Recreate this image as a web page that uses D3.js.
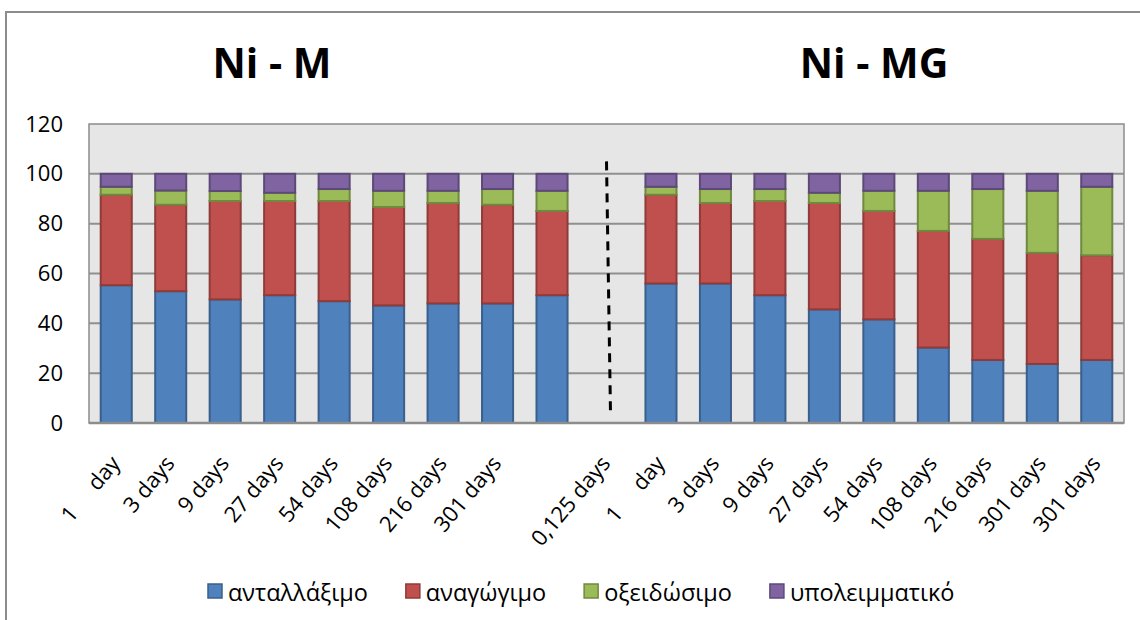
<!DOCTYPE html>
<html>
<head>
<meta charset="utf-8">
<script src="https://cdn.jsdelivr.net/npm/d3@7"></script>
<style>
  body { margin: 0; background: #fff; }
  text { font-family: "Open Sans", "Noto Sans", sans-serif; }
</style>
</head>
<body>
<svg id="chart" width="1140" height="620"></svg>
<script>
// legend / series
var seriesNames = ['ανταλλάξιμο', 'αναγώγιμο', 'οξειδώσιμο', 'υπολειμματικό']
var fills = ['#4F81BD', '#C0504D', '#9BBB59', '#8064A2']
var strokes = ['#3A5F8C', '#8E3B39', '#71893F', '#5D4978']

// Ni - M, 9 bars
var exchM = [55.3, 52.9, 49.6, 51.3, 48.9, 47.2, 48.0, 48.0, 51.3]
var redM  = [36.3, 34.7, 39.5, 37.8, 40.2, 39.5, 40.3, 39.6, 33.8]
var oxM   = [3.2, 5.7, 4.0, 3.3, 4.8, 6.5, 4.9, 6.3, 8.1]
var resM  = [5.2, 6.7, 6.9, 7.6, 6.1, 6.8, 6.8, 6.1, 6.8]

// Ni - MG, 9 bars
var exchMG = [56.0, 56.0, 51.3, 45.6, 41.6, 30.3, 25.3, 23.7, 25.3]
var redMG  = [35.6, 32.3, 37.8, 42.7, 43.5, 46.8, 48.6, 44.6, 42.0]
var oxMG   = [3.2, 5.6, 4.8, 4.1, 8.1, 16.1, 20.0, 24.9, 27.5]
var resMG  = [5.2, 6.1, 6.1, 7.6, 6.8, 6.8, 6.1, 6.8, 5.2]

// category axis labels as printed (one slot is the gap between the groups)
var axisLabels = ['1     day', '3 days', '9 days', '27 days', '54 days', '108 days', '216 days', '301 days', '',
  '0,125 days', '1     day', '3 days', '9 days', '27 days', '54 days', '108 days', '216 days', '301 days', '301 days']

var yTicks = [0, 20, 40, 60, 80, 100, 120]
var titles = ['Ni - M', 'Ni - MG']

var svg = d3.select('#chart')
var plotL = 89, plotR = 1124, plotT = 124, plotB = 423

// outer chart border
svg.append('rect').attr('x', 6).attr('y', 12).attr('width', 1200).attr('height', 700)
  .attr('fill', '#fff').attr('stroke', '#8c8c8c').attr('stroke-width', 2)

var x = d3.scaleBand().domain(d3.range(axisLabels.length)).range([plotL, plotR])
  .paddingInner(0.43).paddingOuter(0.215)
var y = d3.scaleLinear().domain([0, 120]).range([plotB, plotT])

// plot background
svg.append('rect').attr('x', plotL).attr('y', plotT)
  .attr('width', plotR - plotL).attr('height', plotB - plotT)
  .attr('fill', '#e6e6e6').attr('stroke', '#8c8c8c').attr('stroke-width', 1.5)

svg.append('g').selectAll('line').data(yTicks.filter(function(d){ return d > 0 && d < 120 }))
  .enter().append('line')
  .attr('x1', plotL).attr('x2', plotR)
  .attr('y1', function(d){ return y(d) }).attr('y2', function(d){ return y(d) })
  .attr('stroke', '#8f8f8f').attr('stroke-width', 2)

var yAxis = svg.append('g').attr('transform', 'translate(' + plotL + ',0)')
  .call(d3.axisLeft(y).tickValues(yTicks).tickSize(0).tickPadding(26))
yAxis.select('.domain').remove()
yAxis.selectAll('text').attr('font-size', 22).attr('fill', '#000')
  .style('font-family', '"Open Sans", sans-serif')

// rows for stacking
var keys = ['a', 'b', 'c', 'd']
function rows(a, b, c, d, offset){
  return a.map(function(v, i){
    return {slot: i + offset, a: a[i], b: b[i], c: c[i], d: d[i]}
  })
}
var data = rows(exchM, redM, oxM, resM, 0)
  .concat(rows(exchMG, redMG, oxMG, resMG, exchM.length + 1))

var stacked = d3.stack().keys(keys)(data)

svg.append('g').selectAll('g').data(stacked).enter().append('g')
  .attr('fill', function(d, i){ return fills[i] })
  .attr('stroke', function(d, i){ return strokes[i] })
  .attr('stroke-width', 2)
  .selectAll('rect').data(function(d){ return d }).enter().append('rect')
  .attr('x', function(d){ return x(d.data.slot) })
  .attr('width', x.bandwidth())
  .attr('y', function(d){ return y(d[1]) })
  .attr('height', function(d){ return y(d[0]) - y(d[1]) })

// bottom axis line
svg.append('line').attr('x1', plotL).attr('x2', plotR).attr('y1', plotB).attr('y2', plotB)
  .attr('stroke', '#8c8c8c').attr('stroke-width', 2.5)

// dashed separator in the gap slot
var gapX = x(exchM.length) + x.bandwidth() / 2
svg.append('line')
  .attr('x1', gapX).attr('x2', gapX + 4)
  .attr('y1', y(105)).attr('y2', y(4))
  .attr('stroke', '#000').attr('stroke-width', 3).attr('stroke-dasharray', '9,7')

// category labels
svg.append('g').selectAll('text').data(axisLabels).enter().append('text')
  .attr('transform', function(d, i){
    return 'translate(' + (x(i) + x.bandwidth() / 2 + 5) + ',464) rotate(-50)'
  })
  .attr('text-anchor', 'end')
  .attr('font-size', 22)
  .style('white-space', 'pre')
  .text(function(d){ return d })

// titles
var titleX = [272, 874]
svg.append('g').selectAll('text').data(titles).enter().append('text')
  .attr('x', function(d, i){ return titleX[i] }).attr('y', 78)
  .attr('text-anchor', 'middle').attr('font-size', 41).attr('font-weight', 'bold')
  .text(function(d){ return d })

// legend
var lg = svg.append('g')
var lx = 208
seriesNames.forEach(function(name, i){
  lg.append('rect').attr('x', lx).attr('y', 584).attr('width', 14).attr('height', 14)
    .attr('fill', fills[i]).attr('stroke', strokes[i]).attr('stroke-width', 1.5)
  var t = lg.append('text').attr('x', lx + 20).attr('y', 601).attr('font-size', 23.5).text(name)
  lx += 20 + t.node().getComputedTextLength() + 38
})
</script>
</body>
</html>
